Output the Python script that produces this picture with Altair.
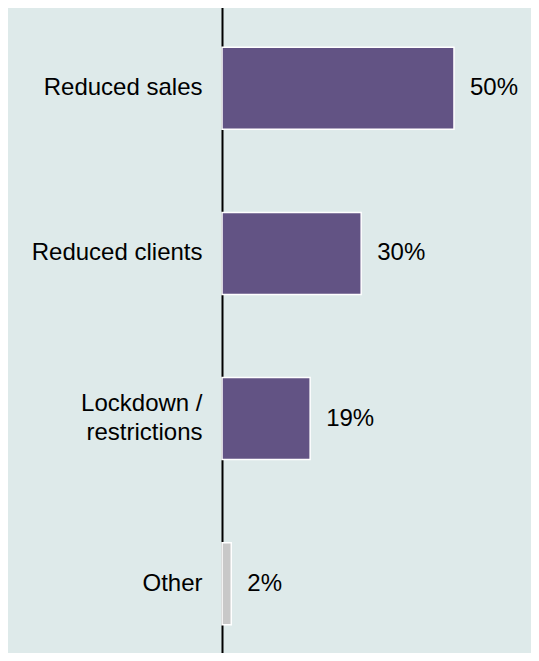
import altair as alt
import pandas as pd

categories = ["Reduced sales", "Reduced clients", "Lockdown / restrictions", "Other"]
values = [50, 30, 19, 2]
labels = ["50%", "30%", "19%", "2%"]

df = pd.DataFrame({"category": categories, "value": values, "label": labels})

FONT = "Liberation Sans"
PURPLE = "#625384"
GREY = "#c8c8c8"
BG = "#deeaea"

y = alt.Y(
    "category:N",
    sort=categories,
    title=None,
    scale=alt.Scale(range=[-2, 658], paddingInner=0.503, paddingOuter=0.25),
    axis=alt.Axis(
        domainColor="#000000",
        domainWidth=2,
        ticks=False,
        labelFont=FONT,
        labelFontSize=24,
        labelColor="#000000",
        labelPadding=20,
        labelLineHeight=29,
        labelLimit=300,
        labelOffset={
            "condition": {"test": "datum.value == 'Lockdown / restrictions'", "value": -14.5},
            "value": 0,
        },
        labelExpr="datum.value == 'Lockdown / restrictions' ? ['Lockdown /', 'restrictions'] : datum.label",
    ),
)
x = alt.X(
    "value:Q",
    title=None,
    scale=alt.Scale(domain=[0, 66.6], nice=False, zero=True),
    axis=None,
)

bars = alt.Chart(df).mark_bar(stroke="white", strokeWidth=1.5).encode(
    x=x,
    y=y,
    color=alt.condition(alt.datum.category == "Other", alt.value(GREY), alt.value(PURPLE)),
)

text = alt.Chart(df).mark_text(
    align="left", baseline="middle", dx=16, font=FONT, fontSize=24, color="#000000"
).encode(x=x, y=y, text="label:N")

chart = (
    (bars + text)
    .properties(
        width=309,
        height=645,
        background=BG,
        padding={"left": 214, "top": 0, "right": 0, "bottom": 0},
        autosize=alt.AutoSizeParams(type="none"),
    )
    .configure_view(strokeWidth=0)
)

chart.save("out.html", embed_options={"renderer": "svg", "actions": False})
